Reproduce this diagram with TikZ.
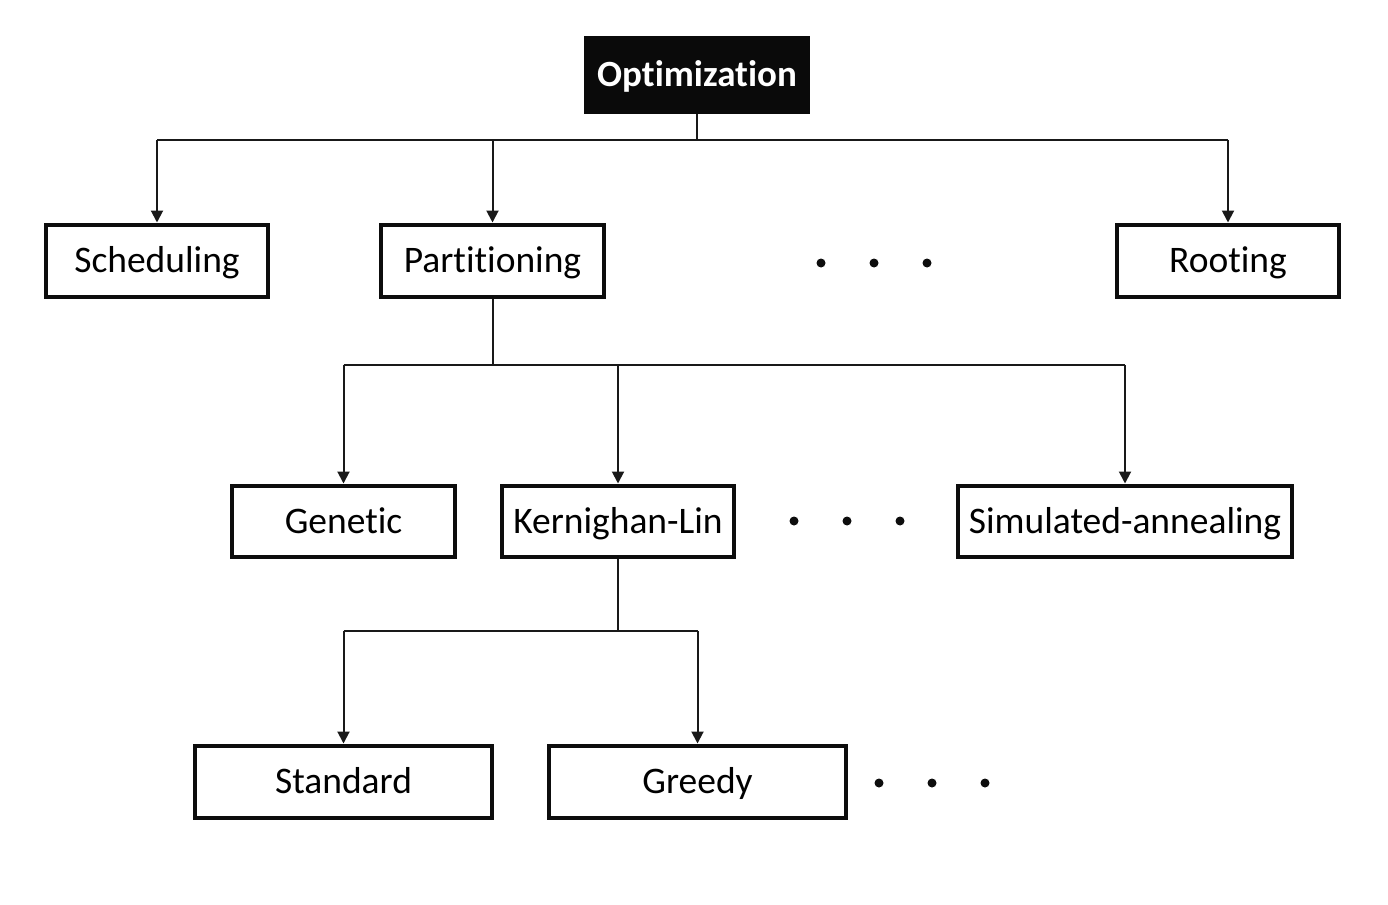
\documentclass[tikz,border=0pt]{standalone}
\usepackage{fontspec}
\setmainfont[Ligatures={NoCommon,NoRare,NoDiscretionary}]{Carlito}
\usetikzlibrary{arrows.meta}
\begin{document}
\begin{tikzpicture}[x=1pt,y=-1pt,
  box/.style={draw=black!95,line width=4pt,inner sep=0pt,font=\fontsize{37.5}{44}\selectfont,minimum height=72pt,text height=24.5pt,text depth=0pt},
  topbox/.style={fill=black!96,text=white,inner sep=0pt,font=\fontsize{37}{44}\selectfont\bfseries,minimum width=226pt,minimum height=78pt,text height=24pt,text depth=0pt},
  conn/.style={line width=2pt,draw=black!90},
  arr/.style={conn,-{Triangle[length=12pt,width=12pt]}},
  dot/.style={circle,fill=black!95,inner sep=0pt,minimum size=9pt}]
\useasboundingbox (0,0) rectangle (1388,904);
% nodes
\node[topbox] (opt) at (697,75) {Optimization};
\node[box,minimum width=222pt] (sched) at (157,260.5) {Scheduling};
\node[box,minimum width=223pt] (part) at (492.5,260.5) {Partitioning};
\node[box,minimum width=222pt] (root) at (1228,260.5) {Rooting};
\node[box,minimum width=223pt,minimum height=71pt] (gen) at (343.5,521) {Genetic};
\node[box,minimum width=232pt,minimum height=71pt] (kl) at (618,521) {Kernighan-Lin};
\node[box,minimum width=334pt,minimum height=71pt] (sa) at (1125,521) {Simulated-annealing};
\node[box,minimum width=297pt] (std) at (343.5,781.5) {Standard};
\node[box,minimum width=297pt] (gre) at (697.5,781.5) {Greedy};
% dots
\node[dot] (d1) at (821,263) {};
\node[dot] (d2) at (874,263) {};
\node[dot] (d3) at (927,263) {};
\node[dot] (d4) at (794,521) {};
\node[dot] (d5) at (847,521) {};
\node[dot] (d6) at (900,521) {};
\node[dot] (d7) at (879,783) {};
\node[dot] (d8) at (932,783) {};
\node[dot] (d9) at (985,783) {};
% junctions
\coordinate (j1) at (697,140);
\coordinate (j2) at (492.5,365);
\coordinate (j3) at (618,631);
% connectors
\draw[conn] (opt.south) -- (j1);
\draw[conn] (j1 -| sched.north) -- (j1 -| root.north);
\draw[arr] (j1 -| sched.north) -- (sched.north);
\draw[arr] (j1 -| part.north) -- (part.north);
\draw[arr] (j1 -| root.north) -- (root.north);
\draw[conn] (part.south) -- (j2);
\draw[conn] (j2 -| gen.north) -- (j2 -| sa.north);
\draw[arr] (j2 -| gen.north) -- (gen.north);
\draw[arr] (j2 -| kl.north) -- (kl.north);
\draw[arr] (j2 -| sa.north) -- (sa.north);
\draw[conn] (kl.south) -- (j3);
\draw[conn] (j3 -| std.north) -- (j3 -| gre.north);
\draw[arr] (j3 -| std.north) -- (std.north);
\draw[arr] (j3 -| gre.north) -- (gre.north);
\end{tikzpicture}
\end{document}
